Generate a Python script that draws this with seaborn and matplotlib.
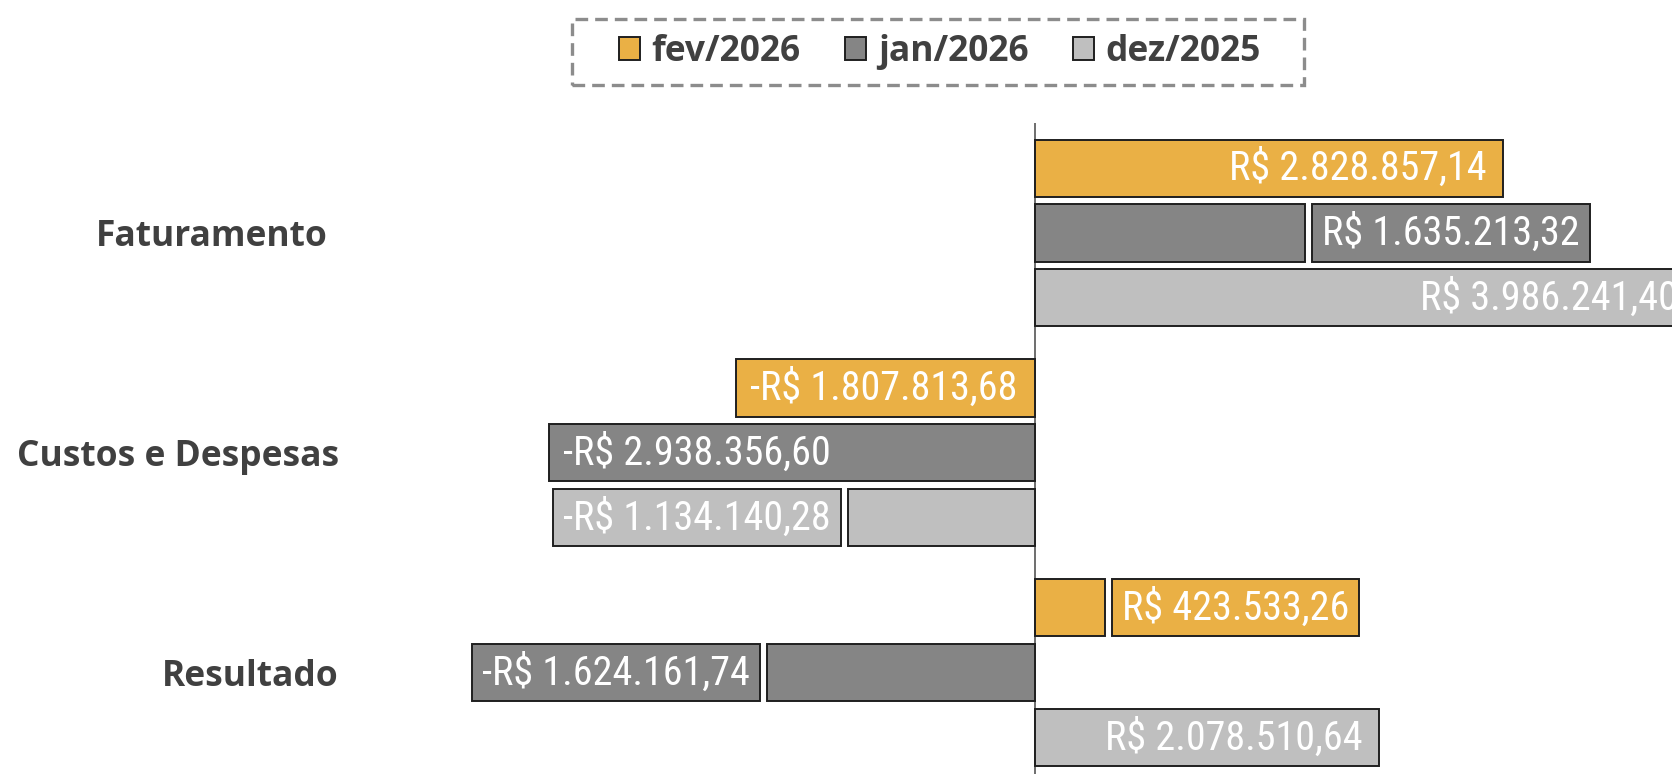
import numpy as np
import pandas as pd
import matplotlib
matplotlib.use("Agg")
import matplotlib.pyplot as plt
import seaborn as sns
from matplotlib import font_manager
from matplotlib.patches import Rectangle
from matplotlib.transforms import ScaledTranslation

# Dados do gráfico
categorias = ["Faturamento", "Custos e Despesas", "Resultado"]
periodos = ["fev/2026", "jan/2026", "dez/2025"]
fev_2026 = [2828857.14, -1807813.68, 423533.26]
jan_2026 = [1635213.32, -2938356.60, -1624161.74]
dez_2025 = [3986241.40, -1134140.28, 2078510.64]
cores = ["#EAB045", "#858585", "#BFBFBF"]


def brl(v):
    s = f"{abs(v):,.2f}".replace(",", "X").replace(".", ",").replace("X", ".")
    return ("-R$ " if v < 0 else "R$ ") + s


df = pd.DataFrame({
    "categoria": categorias * 3,
    "periodo": np.repeat(periodos, 3),
    "valor": fev_2026 + jan_2026 + dez_2025,
})

# Fontes: rótulos de valor numa fonte estreita, se houver
nomes = {f.name for f in font_manager.fontManager.ttflist}
candidatas = ["Liberation Sans Narrow", "Roboto Condensed", "Open Sans Condensed",
              "Noto Sans Condensed", "Roboto", "Open Sans"]
fonte_num = [next((c for c in candidatas if c in nomes), "DejaVu Sans"), "DejaVu Sans"]

sns.set_theme(style="white")
plt.rcParams["font.family"] = ["Open Sans", "DejaVu Sans"]

cinza_txt = "#404040"
borda = "#1f1f1f"

fig = plt.figure(figsize=(16.72, 7.74), dpi=100)
ax = fig.add_axes([350 / 1672, 0.0, 1 - 350 / 1672, 1 - 123 / 774])

sns.barplot(
    data=df, x="valor", y="categoria", hue="periodo",
    hue_order=periodos, order=categorias, palette=cores,
    orient="h", width=0.885, gap=0.12, saturation=1,
    edgecolor=borda, linewidth=1.4, errorbar=None, legend=False, ax=ax,
)

ax.set_xlim(-4.144e6, 3.853e6)
ax.set_ylim(2.46, -0.5)
ax.axvline(0, color="#555555", lw=1.2, zorder=0)
sns.despine(ax=ax, left=True, bottom=True)
ax.set_xticks([])
ax.set_xlabel("")
ax.set_ylabel("")
ax.tick_params(axis="y", length=0, pad=8)
for i, t in enumerate(ax.get_yticklabels()):
    t.set_fontsize(25.5)
    t.set_fontweight("bold")
    t.set_color(cinza_txt)
    if i == 0:
        t.set_transform(t.get_transform() + ScaledTranslation(-0.11, 0, fig.dpi_scale_trans))

# Rótulos de valor
fig.canvas.draw()
rend = fig.canvas.get_renderer()
px_por_unid = ax.transData.transform((1e6, 0))[0] - ax.transData.transform((0, 0))[0]
px = lambda p: p / px_por_unid * 1e6

# tamanho da fonte ajustado para a largura de "R$ 2.828.857,14" (~257 px)
teste = fig.text(0, 0, brl(fev_2026[0]), fontsize=25.5, family=fonte_num)
tam = 25.5 * 257 / teste.get_window_extent(rend).width
teste.remove()

for cont, cor in zip(ax.containers, cores):
    for bar in cont:
        x0, x1 = sorted([bar.get_x(), bar.get_x() + bar.get_width()])
        v = x1 if x1 > 0 else x0
        yc = bar.get_y() + bar.get_height() / 2
        t = ax.text(0, yc, brl(v), color="white", fontsize=tam, family=fonte_num,
                    va="center", ha="center", zorder=5)
        w = t.get_window_extent(rend).width
        comp = abs(v) * px_por_unid / 1e6
        if w + 18 <= comp:
            if v > 0:
                t.set_x(v - px(16))
                t.set_ha("right")
            else:
                t.set_x(v + px(14))
                t.set_ha("left")
        else:
            larg = px(w + 20)
            gap = px(7)
            xb = v + gap if v > 0 else v - gap - larg
            ax.add_patch(Rectangle((xb, bar.get_y()), larg, bar.get_height(),
                                   facecolor=cor, edgecolor=borda, lw=1.4, zorder=4))
            t.set_x(xb + larg / 2)

# Legenda com moldura tracejada
fig.patches.append(Rectangle((572 / 1672, 1 - 85 / 774), 732 / 1672, 66 / 774,
                             transform=fig.transFigure, fill=False, edgecolor="#8c8c8c",
                             lw=2.4, linestyle=(0, (3.8, 2.1))))
handles = [Rectangle((0, 0), 1, 1, facecolor=c, edgecolor=borda, lw=1.4) for c in cores]
leg = fig.legend(handles, periodos, loc="center", bbox_to_anchor=(940 / 1672, 1 - 52 / 774),
                 ncol=3, frameon=False, handlelength=0.6, handleheight=0.6,
                 handletextpad=0.33, columnspacing=1.25, borderpad=0,
                 prop={"family": ["Open Sans", "DejaVu Sans"], "weight": "bold", "size": 25.5})
for t in leg.get_texts():
    t.set_color(cinza_txt)

fig.savefig("out.png", dpi=100)
